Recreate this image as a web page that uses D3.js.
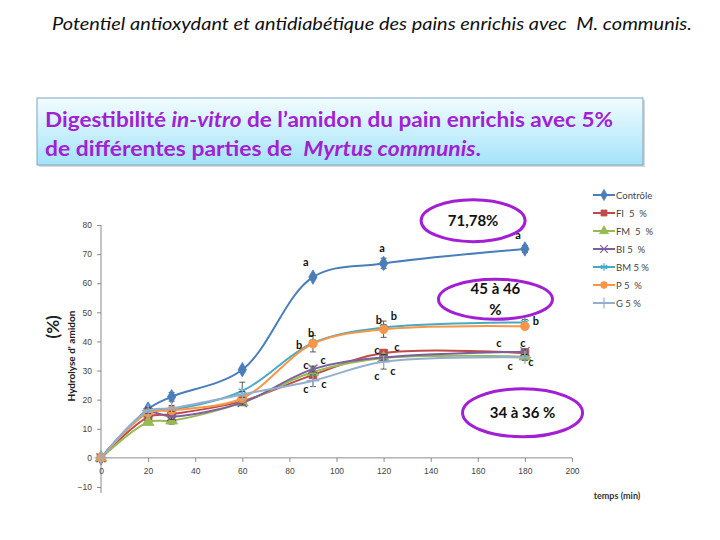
<!DOCTYPE html>
<html>
<head>
<meta charset="utf-8">
<script src="https://cdn.jsdelivr.net/npm/d3@7.9.0/dist/d3.min.js"></script>
<style>
  body { margin: 0; background: #fff; }
  svg { display: block; font-family: Lato, "Open Sans", sans-serif; }
  svg text { white-space: pre; }
</style>
</head>
<body>
<svg id="chart" width="720" height="540"></svg>
<script>
// time points (min)
const times = [0, 20, 30, 60, 90, 120, 180];

// series (% hydrolysis)
const seriesNames = ["Contrôle", "FI  5  %", "FM  5  %", "BI 5  %", "BM 5 %", "P 5  %", "G 5 %"];
const controle = [0, 16.8, 21, 30.3, 62.1, 66.8, 71.78];
const fi = [0, 14, 15, 19.5, 28.5, 36, 36];
const fm = [0, 12.3, 12.8, 19, 29.5, 34.3, 34.8];
const bi = [0, 15.5, 14.2, 19, 30.5, 34.5, 36.5];
const bm = [0, 16, 16.5, 23, 39.5, 44.8, 46.5];
const p5 = [0, 15.5, 16.3, 20.5, 39.2, 44.2, 45.2];
const g5 = [0, 16.2, 17, 21.8, 26.5, 33, 34.5];

// error bars (±)
const errControle = [0, 0.8, 1.5, 0.8, 0.8, 1.8, 1.2];
const errFi = [0, 1, 1.5, 0.8, 1, 1, 1];
const errFm = [0, 0.8, 1.2, 0.8, 1, 1, 1];
const errBi = [0, 0.8, 1, 0.8, 1, 1, 1];
const errBm = [0, 1, 1, 3, 1, 1, 1];
const errP5 = [0, 1, 1, 1, 2.8, 2.8, 0.8];
const errG5 = [0, 1, 1, 1, 2, 2.5, 1];

const xTicks = [0, 20, 40, 60, 80, 100, 120, 140, 160, 180, 200];
const yTicks = [-10, 0, 10, 20, 30, 40, 50, 60, 70, 80];

// significance letters: [time, value, letter]
const letters = [
  [87, 66, "a"], [119.3, 70.8, "a"], [177.1, 75.3, "a"],
  [89.2, 41.6, "b"], [84.1, 37.5, "b"], [118, 46, "b"], [124.4, 47.4, "b"],
  [177, 49.5, "b"], [184.7, 45.7, "b"],
  [87, 30.6, "c"], [94.3, 32.3, "c"], [87, 22.3, "c"], [94.7, 24.1, "c"],
  [117.2, 35.7, "c"], [125.7, 36.8, "c"], [117.2, 26.8, "c"], [124, 28.5, "c"],
  [169, 38.1, "c"], [179.2, 38.1, "c"], [173.7, 30.2, "c"], [182.6, 31.6, "c"]
];

// callouts: [time, value, rx, ry, lines]
const callouts = [
  [158, 81.5, 52, 21, ["71,78%"]],
  [167.5, 54.5, 57, 20, ["45 à 46", "%"]],
  [179, 15.5, 60, 24, ["34 à 36 %"]]
];

const values = [controle, fi, fm, bi, bm, p5, g5];
const errors = [errControle, errFi, errFm, errBi, errBm, errP5, errG5];
const colors = ["#4A7EBB", "#BE4B48", "#98B954", "#7D60A0", "#46AAC5", "#F79646", "#94AECF"];
const symbols = [d3.symbolDiamond, d3.symbolSquare, d3.symbolTriangle, d3.symbolX, d3.symbolAsterisk, d3.symbolCircle, d3.symbolPlus];
const strokeSym = [false, false, false, true, true, false, true];

const svg = d3.select("#chart");

// ---- header ----
svg.append("text")
  .attr("x", 52).attr("y", 30)
  .attr("font-size", 17).attr("font-style", "italic").attr("fill", "#111")
  .attr("textLength", 640).attr("lengthAdjust", "spacingAndGlyphs")
  .text("Potentiel antioxydant et antidiabétique des pains enrichis avec  M. communis.");

const defs = svg.append("defs");
const grad = defs.append("linearGradient").attr("id", "boxGrad")
  .attr("x1", 0).attr("y1", 0).attr("x2", 0).attr("y2", 1);
grad.append("stop").attr("offset", "0%").attr("stop-color", "#F2FCFF");
grad.append("stop").attr("offset", "100%").attr("stop-color", "#A3E3F9");

svg.append("rect")
  .attr("x", 39).attr("y", 100).attr("width", 606).attr("height", 67)
  .attr("fill", "#D8D8D8");
svg.append("rect")
  .attr("x", 37).attr("y", 98).attr("width", 606).attr("height", 67)
  .attr("fill", "url(#boxGrad)").attr("stroke", "#7CA6C2").attr("stroke-width", 1);

const purple = "#A21FD3";
const t1 = svg.append("text").attr("x", 45).attr("y", 127)
  .attr("font-size", 20).attr("font-weight", "bold").attr("fill", purple)
  .attr("textLength", 568).attr("lengthAdjust", "spacingAndGlyphs");
t1.append("tspan").text("Digestibilité ");
t1.append("tspan").attr("font-style", "italic").text("in-vitro");
t1.append("tspan").text(" de l’amidon du pain enrichis avec 5%");

const t2 = svg.append("text").attr("x", 45).attr("y", 156)
  .attr("font-size", 20).attr("font-weight", "bold").attr("fill", purple)
  .attr("textLength", 436).attr("lengthAdjust", "spacingAndGlyphs");
t2.append("tspan").text("de différentes parties de  ");
t2.append("tspan").attr("font-style", "italic").text("Myrtus communis");
t2.append("tspan").text(".");

// ---- scales ----
const x = d3.scaleLinear().domain([0, 200]).range([101, 572]);
const y = d3.scaleLinear().domain([-10, 80]).range([487, 225]);

const axisColor = "#8A8A8A";
const tickText = "#444";

// y axis
const yAxis = svg.append("g").attr("transform", `translate(${x(0)},0)`)
  .call(d3.axisLeft(y).tickValues(yTicks).tickSize(4).tickPadding(5).tickFormat(d3.format("d")));
yAxis.select(".domain").attr("stroke", axisColor).attr("d", `M0,${y(80)}V${y(-10) + 6}`);
yAxis.selectAll(".tick line").attr("stroke", axisColor);
yAxis.selectAll(".tick text").attr("fill", tickText).attr("font-size", 8.5);

// x axis on the zero line
const xAxis = svg.append("g").attr("transform", `translate(0,${y(0)})`)
  .call(d3.axisBottom(x).tickValues(xTicks).tickSize(4).tickPadding(6).tickFormat(d3.format("d")));
xAxis.select(".domain").attr("stroke", axisColor).attr("d", `M${x(0)},0H${x(200)}`);
xAxis.selectAll(".tick line").attr("stroke", axisColor);
xAxis.selectAll(".tick text").attr("fill", tickText).attr("font-size", 8.5);

// axis titles
svg.append("text")
  .attr("transform", `translate(75,${y(35)}) rotate(-90)`)
  .attr("text-anchor", "middle").attr("font-size", 10).attr("font-weight", "bold").attr("fill", "#222")
  .text("Hydrolyse d' amidon");
svg.append("text")
  .attr("transform", `translate(59,${y(45)}) rotate(-90)`)
  .attr("text-anchor", "middle").attr("font-size", 17).attr("font-weight", "bold").attr("fill", "#222")
  .text("(%)");
svg.append("text")
  .attr("x", 617).attr("y", 499).attr("text-anchor", "middle")
  .attr("font-size", 9).attr("font-weight", "bold").attr("fill", "#333")
  .text("temps (min)");

// ---- series ----
const line = d3.line()
  .x((d, i) => x(times[i]))
  .y(d => y(d))
  .curve(d3.curveCatmullRom.alpha(0.5));

const sym = (k, size) => d3.symbol().type(symbols[k]).size(size)();

values.forEach((vals, k) => {
  const g = svg.append("g");
  g.append("path").datum(vals)
    .attr("d", line).attr("fill", "none")
    .attr("stroke", colors[k]).attr("stroke-width", 2);

  // error bars
  vals.forEach((v, i) => {
    const e = errors[k][i];
    if (!e) return;
    const cx = x(times[i]);
    g.append("path")
      .attr("d", `M${cx},${y(v - e)}V${y(v + e)}M${cx - 3},${y(v - e)}H${cx + 3}M${cx - 3},${y(v + e)}H${cx + 3}`)
      .attr("stroke", "#333").attr("stroke-width", 0.8).attr("fill", "none");
  });

  // markers
  g.selectAll("path.mk").data(vals).join("path")
    .attr("class", "mk")
    .attr("transform", (d, i) => `translate(${x(times[i])},${y(d)})`)
    .attr("d", sym(k, strokeSym[k] ? 55 : 60))
    .attr("fill", strokeSym[k] ? "none" : colors[k])
    .attr("stroke", colors[k])
    .attr("stroke-width", strokeSym[k] ? 1.3 : 0.8);
});

// significance letters
svg.append("g").selectAll("text").data(letters).join("text")
  .attr("x", d => x(d[0])).attr("y", d => y(d[1]))
  .attr("text-anchor", "middle").attr("font-size", 11).attr("font-weight", "bold").attr("fill", "#111")
  .text(d => d[2]);

// callout ellipses
callouts.forEach(([t, v, rx, ry, lines]) => {
  const cx = x(t), cy = y(v);
  svg.append("ellipse")
    .attr("cx", cx).attr("cy", cy).attr("rx", rx).attr("ry", ry)
    .attr("fill", "#fff").attr("stroke", "#A21FD3").attr("stroke-width", 3);
  const lh = 21;
  lines.forEach((s, j) => {
    svg.append("text")
      .attr("x", cx).attr("y", cy + 5 + (j - (lines.length - 1) / 2) * lh)
      .attr("text-anchor", "middle").attr("font-size", 15).attr("font-weight", "bold").attr("fill", "#111")
      .text(s);
  });
});

// legend
const legend = svg.append("g").attr("transform", "translate(593,195)");
seriesNames.forEach((name, k) => {
  const row = legend.append("g").attr("transform", `translate(0,${k * 18})`);
  row.append("line").attr("x1", 0).attr("x2", 22).attr("y1", 0).attr("y2", 0)
    .attr("stroke", colors[k]).attr("stroke-width", 2);
  row.append("path").attr("transform", "translate(11,0)")
    .attr("d", sym(k, strokeSym[k] ? 40 : 36))
    .attr("fill", strokeSym[k] ? "none" : colors[k])
    .attr("stroke", colors[k]).attr("stroke-width", strokeSym[k] ? 1.2 : 0.8);
  row.append("text").attr("x", 23).attr("y", 3.5)
    .attr("font-size", 9.5).attr("fill", "#444")
    .text(name);
});
</script>
</body>
</html>
